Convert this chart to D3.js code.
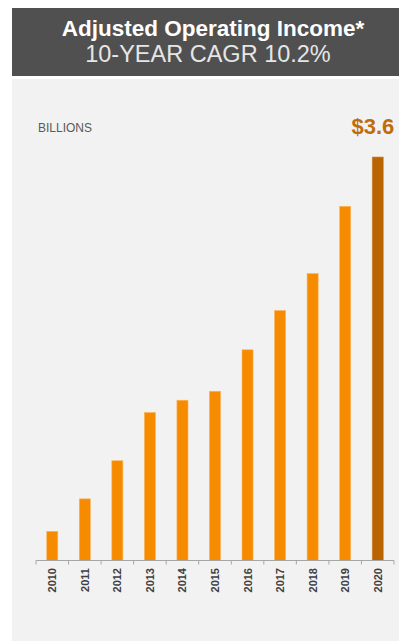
<!DOCTYPE html>
<html>
<head>
<meta charset="utf-8">
<script src="https://cdn.jsdelivr.net/npm/d3@7"></script>
<style>
  body { margin: 0; background: #fff; }
  svg { display: block; font-family: "Liberation Sans", Arial, sans-serif; }
</style>
</head>
<body>
<svg id="chart" width="399" height="641"></svg>
<script>
// data (billions)
var years = ["2010", "2011", "2012", "2013", "2014", "2015", "2016", "2017", "2018", "2019", "2020"];
var income = [0.26, 0.55, 0.89, 1.32, 1.43, 1.51, 1.88, 2.23, 2.56, 3.16, 3.6];
var highlightYear = "2020";
var title = "Adjusted Operating Income*";
var subtitle = "10-YEAR CAGR 10.2%";
var unitLabel = "BILLIONS";

var svg = d3.select("#chart");

// header band
svg.append("rect")
    .attr("x", 12).attr("y", 8)
    .attr("width", 387).attr("height", 68)
    .attr("fill", "#505050");

svg.append("text")
    .attr("x", 213).attr("y", 36)
    .attr("text-anchor", "middle")
    .attr("fill", "#fff")
    .style("font-weight", "bold")
    .style("font-size", "22.5px")
    .text(title);

svg.append("text")
    .attr("x", 208).attr("y", 62)
    .attr("text-anchor", "middle")
    .attr("fill", "#e6e6e6")
    .style("font-size", "23.5px")
    .text(subtitle);

// panel
svg.append("rect")
    .attr("x", 12).attr("y", 79)
    .attr("width", 387).attr("height", 562)
    .attr("fill", "#f2f2f2");

svg.append("text")
    .attr("x", 38).attr("y", 132)
    .attr("fill", "#595959")
    .style("font-size", "12px")
    .text(unitLabel);

var margin = {left: 36, right: 394, bottom: 560.5, top: 157};

var x = d3.scaleBand()
    .domain(years)
    .range([margin.left, margin.right])
    .paddingInner(0.66)
    .paddingOuter(0.33);

var y = d3.scaleLinear()
    .domain([0, d3.max(income)])
    .range([margin.bottom, margin.top]);

svg.append("g")
  .selectAll("rect")
    .data(years)
  .enter().append("rect")
    .attr("x", function(d) { return x(d); })
    .attr("width", x.bandwidth())
    .attr("y", function(d, i) { return y(income[i]); })
    .attr("height", function(d, i) { return y(0) - y(income[i]); })
    .attr("fill", function(d) { return d == highlightYear ? "#b96400" : "#f68b00"; })
    .attr("stroke", function(d) { return d == highlightYear ? "#d08a3a" : "#fbb45c"; })
    .attr("stroke-width", 0.6);

// value label on the last bar
var last = years.length - 1;
svg.append("text")
    .attr("x", x(years[last]) + x.bandwidth() + 11)
    .attr("y", y(income[last]) - 23)
    .attr("text-anchor", "end")
    .attr("fill", "#bf6d0c")
    .style("font-weight", "bold")
    .style("font-size", "22px")
    .text("$" + d3.format(".1f")(income[last]));

// x axis: line + ticks at band boundaries
var axis = svg.append("g");
axis.append("line")
    .attr("x1", margin.left).attr("x2", margin.right)
    .attr("y1", margin.bottom).attr("y2", margin.bottom)
    .attr("stroke", "#a6a6a6")
    .attr("stroke-width", 1.2);

axis.selectAll("line.tick")
    .data(d3.range(years.length + 1))
  .enter().append("line")
    .attr("class", "tick")
    .attr("x1", function(i) { return margin.left + i * (margin.right - margin.left) / years.length; })
    .attr("x2", function(i) { return margin.left + i * (margin.right - margin.left) / years.length; })
    .attr("y1", margin.bottom).attr("y2", margin.bottom + 4)
    .attr("stroke", "#a6a6a6");

axis.selectAll("text")
    .data(years)
  .enter().append("text")
    .attr("transform", function(d) {
      return "translate(" + (x(d) + x.bandwidth() / 2 + 4) + "," + (margin.bottom + 7.5) + ") rotate(-90)";
    })
    .attr("text-anchor", "end")
    .attr("fill", "#404040")
    .style("font-weight", "bold")
    .style("font-size", "11px")
    .text(function(d) { return d; });
</script>
</body>
</html>
